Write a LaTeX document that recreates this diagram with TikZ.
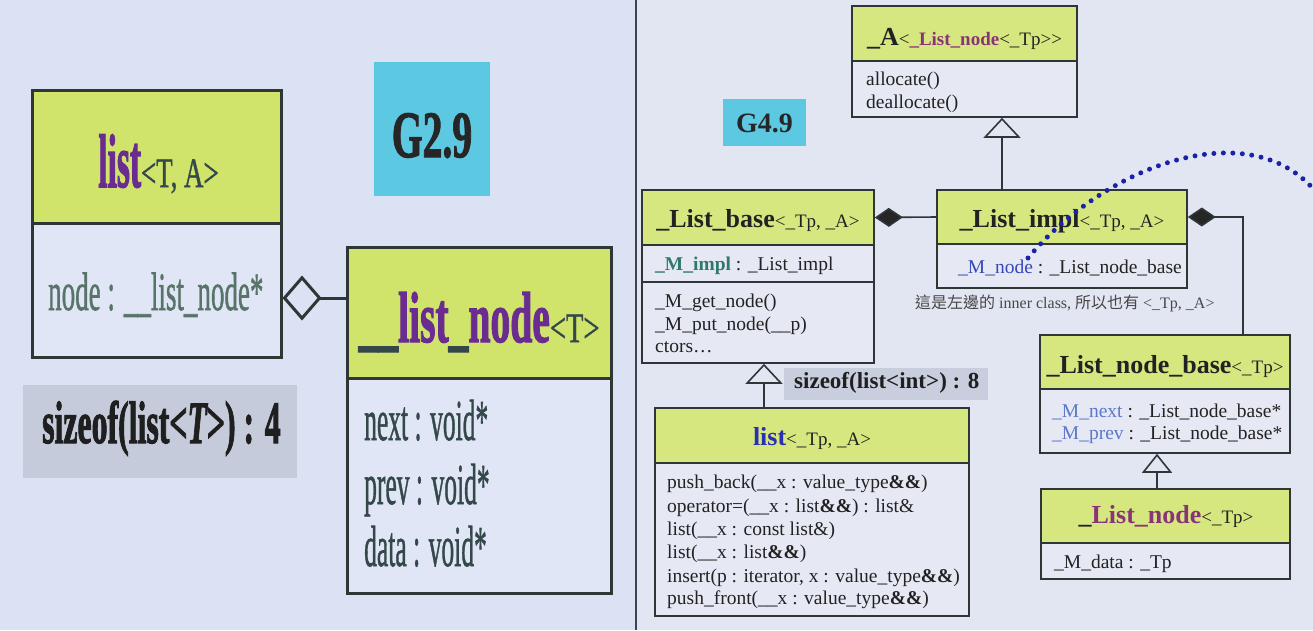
\documentclass[tikz,border=0pt]{standalone}
\usepackage{graphicx}
\usepackage{fontspec}
\setmainfont{Liberation Serif}
\newfontfamily\cjk{Noto Sans CJK TC}
\newfontfamily\lreg{Liberation Serif}[FakeBold=1.2]
\newfontfamily\lbold{Liberation Serif Bold}[FakeBold=2]
\newfontfamily\lboldit{Liberation Serif Bold Italic}[FakeBold=2]
\usetikzlibrary{arrows.meta,fit,calc}

\definecolor{bgL}{HTML}{DAE2F3}
\definecolor{bgR}{HTML}{E2E6F2}
\definecolor{hdrL}{HTML}{D0E46C}
\definecolor{hdrR}{HTML}{D7E77F}
\definecolor{bodyL}{HTML}{E0E6F6}
\definecolor{bodyR}{HTML}{E6E9F4}
\definecolor{edge}{HTML}{2E3636}
\definecolor{divider}{HTML}{3C4452}
\definecolor{cyanbox}{HTML}{5CC8E2}
\definecolor{grayL}{HTML}{C5CBDA}
\definecolor{grayR}{HTML}{C8CEDD}
\definecolor{purp}{HTML}{6A2C90}
\definecolor{magp}{HTML}{8A3478}
\definecolor{txtL}{HTML}{34484A}
\definecolor{txtL2}{HTML}{587468}
\definecolor{txt}{HTML}{222222}
\definecolor{tealc}{HTML}{2F7A66}
\definecolor{mblue}{HTML}{3548B8}
\definecolor{lblue}{HTML}{5A78C8}
\definecolor{listblue}{HTML}{2A30B0}
\definecolor{dotblue}{HTML}{1A22A8}

\newcommand{\sx}[2]{\scalebox{#1}[1]{#2}}
\newcommand{\fs}[1]{\fontsize{#1}{#1}\selectfont}

\begin{document}
\begin{tikzpicture}[x=1pt,y=-1pt,
  hdL/.style={draw=edge, fill=hdrL, line width=3pt, inner sep=0pt},
  bdL/.style={draw=edge, fill=bodyL, line width=3pt, inner sep=0pt},
  hdR/.style={draw=edge, fill=hdrR, line width=1.6pt, inner sep=0pt},
  bdR/.style={draw=edge, fill=bodyR, line width=1.6pt, inner sep=0pt},
  tag/.style={fill=cyanbox, inner sep=0pt},
  sizebox/.style={inner sep=0pt},
  lbl/.style={anchor=base, inner sep=0pt},
  lblw/.style={anchor=base west, inner sep=0pt},
  rtxt/.style={anchor=base west, inner sep=0pt, font=\fs{19.5}, text=txt},
  aggL/.style={draw=edge, line width=3pt, {Diamond[open, length=39pt, width=45pt, line width=3pt]}-},
  comp/.style={draw=edge, line width=1.6pt, {Diamond[fill=black!85, length=28pt, width=19pt]}-},
  gen/.style={draw=edge, line width=1.6pt, -{Triangle[open, length=20pt, width=37pt, line width=1.6pt]}},
  gensmall/.style={draw=edge, line width=1.6pt, -{Triangle[open, length=19pt, width=30pt, line width=1.6pt]}},
  dots/.style={draw=dotblue, line width=5pt, line cap=round, dash pattern=on 0pt off 9.5pt}
]
\useasboundingbox (0,0) rectangle (1313,630);
\clip (0,0) rectangle (1313,630);
\fill[bgL] (0,0) rectangle (636,630);
\fill[bgR] (636,0) rectangle (1313,630);
\draw[divider, line width=2.5pt] (636,0) -- (636,630);

% ================= LEFT : G2.9 =================
\node[tag, fit={(374,62) (490,196)}] (g29) {};
\node[lbl, text=black!85] (g29t) at (432,157) {\sx{0.6}{\fs{66}\lbold G2.9}};

\node[hdL, fit={(32,90) (281,223)}] (lH) {};
\node[bdL, fit={(32,223) (281,357)}] (lB) {};
\node[lbl] (lHt) at (158.5,187) {\sx{0.44}{\fs{76}\lbold\color{purp}list}\sx{0.64}{\fs{42}\lreg\color{txtL}<T, A>}};
\node[lblw] (lBt) at (48,310) {\sx{0.5}{\fs{54}\lreg\color{txtL2}node : \_\_list\_node*}};

\node[sizebox, fill=grayL, fit={(23,385) (297,478)}] (szL) {};
\node[lblw, text=black!88] (szLt) at (42,443) {\sx{0.53}{\fs{60}\lbold sizeof(list<{\lboldit T}>) : 4}};

\node[hdL, fit={(347,247) (611,378)}] (nH) {};
\node[bdL, fit={(347,378) (611,593)}] (nB) {};
\node[lbl] (nHt) at (479,342) {\sx{0.55}{\fs{72}\lbold\color{txtL}\_\_\color{purp}list\color{txtL}\_\color{purp}node}\sx{0.68}{\fs{42}\lreg\color{txtL}<T>}};
\node[lblw] (nB1) at (364,440) {\sx{0.44}{\fs{58}\lreg\color{txtL}next : void*}};
\node[lblw] (nB2) at (364,504) {\sx{0.44}{\fs{58}\lreg\color{txtL}prev : void*}};
\node[lblw] (nB3) at (364,566) {\sx{0.44}{\fs{58}\lreg\color{txtL}data : void*}};

\coordinate (cL) at (0,298);
\draw[aggL] (lB.east |- cL) -- (nH.west |- cL);

% ================= RIGHT : G4.9 =================
\node[tag, fit={(723,99) (806,146)}] (g49) {};
\node[lbl, text=black!85] (g49t) at (764.5,132) {\fs{28}\bfseries G4.9};

% _A
\node[hdR, fit={(852,6) (1077,61)}] (aH) {};
\node[bdR, fit={(852,61) (1077,117)}] (aB) {};
\node[lbl, text=txt] (aHt) at (964.5,45) {{\fs{26}\bfseries\_A}{\fs{19}<{\bfseries\color{magp}\_List\_node}<\_Tp>{}>}};
\node[rtxt] (aB1) at (866,85) {allocate()};
\node[rtxt] (aB2) at (866,108) {deallocate()};

% _List_base
\node[hdR, fit={(642,190) (874,245)}] (lbH) {};
\node[bdR, fit={(642,245) (874,282)}] (lbA) {};
\node[bdR, fit={(642,282) (874,363)}] (lbM) {};
\node[lbl, text=txt] (lbHt) at (758,227) {{\fs{26}\bfseries\_List\_base}{\fs{19}<\_Tp, \_A>}};
\node[rtxt] (lbA1) at (655,270) {{\bfseries\color{tealc}\_M\_impl} : \_List\_impl};
\node[rtxt] (lbM1) at (655,307) {\_M\_get\_node()};
\node[rtxt] (lbM2) at (655,330) {\_M\_put\_node(\_\_p)};
\node[rtxt] (lbM3) at (655,352) {ctors…};

% _List_impl
\node[hdR, fit={(937,190) (1187,244)}] (liH) {};
\node[bdR, fit={(937,244) (1187,288)}] (liB) {};
\node[lbl, text=txt] (liHt) at (1062,227) {{\fs{26}\bfseries\_List\_impl}{\fs{19}<\_Tp, \_A>}};
\node[rtxt] (liB1) at (958,273) {{\color{mblue}\_M\_node} : \_List\_node\_base};
\node[lblw, text=black!72, font=\fs{16}] (note) at (915,308) {{\cjk 這是左邊的} inner class, {\cjk 所以也有} <\_Tp, \_A>};

% sizeof right
\node[sizebox, fill=grayR, fit={(784,368) (988,400)}] (szR) {};
\node[lblw, text=black!88] (szRt) at (794,388) {\fs{23}\bfseries sizeof(list<int>) : 8};

% list
\node[hdR, fit={(655,408) (969,463)}] (liLH) {};
\node[bdR, fit={(655,463) (969,616)}] (liLB) {};
\node[lbl, text=txt] (liLHt) at (812,445) {{\fs{26}\bfseries\color{listblue}list}{\fs{19}<\_Tp, \_A>}};
\node[rtxt] (m1) at (667,488) {push\_back(\_\_x : value\_type\textbf{\&\&})};
\node[rtxt] (m2) at (667,512) {operator=(\_\_x : list\textbf{\&\&}) : list\&};
\node[rtxt] (m3) at (667,535) {list(\_\_x : const list\&)};
\node[rtxt] (m4) at (667,558) {list(\_\_x : list\textbf{\&\&})};
\node[rtxt] (m5) at (667,582) {insert(p : iterator, x : value\_type\textbf{\&\&})};
\node[rtxt] (m6) at (667,604) {push\_front(\_\_x : value\_type\textbf{\&\&})};

% _List_node_base
\node[hdR, fit={(1040,335) (1290,389)}] (nbH) {};
\node[bdR, fit={(1040,389) (1290,453)}] (nbB) {};
\node[lbl, text=txt] (nbHt) at (1165,373) {{\fs{26}\bfseries\_List\_node\_base}{\fs{19}<\_Tp>}};
\node[rtxt] (nb1) at (1052,417) {{\color{lblue}\_M\_next} : \_List\_node\_base*};
\node[rtxt] (nb2) at (1052,439) {{\color{lblue}\_M\_prev} : \_List\_node\_base*};

% _List_node
\node[hdR, fit={(1041,489) (1290,543)}] (lnH) {};
\node[bdR, fit={(1041,543) (1290,579)}] (lnB) {};
\node[lbl, text=txt] (lnHt) at (1166,523) {{\fs{26}\bfseries\_{\color{magp}List\_node}}{\fs{19}<\_Tp>}};
\node[rtxt] (ln1) at (1054,568) {\_M\_data : \_Tp};

% connectors
\coordinate (gx1) at (1002,0);
\coordinate (gx2) at (764,0);
\coordinate (gx3) at (1157,0);
\coordinate (cx3) at (1243,0);
\draw[gen] (liH.north -| gx1) -- (aB.south -| gx1);
\draw[gen] (liLH.north -| gx2) -- (lbM.south -| gx2);
\draw[gensmall] (lnH.north -| gx3) -- (nbB.south -| gx3);
\draw[comp] (lbH.east) -- (liH.west);
\draw[comp] (liH.east) -| (nbH.north -| cx3);

% dotted curve
\coordinate (d0) at (1028,258);
\coordinate (d1) at (1322,200);
\draw[dots] (d0) .. controls (1110,160) and (1260,110) .. (d1);
\end{tikzpicture}
\end{document}
